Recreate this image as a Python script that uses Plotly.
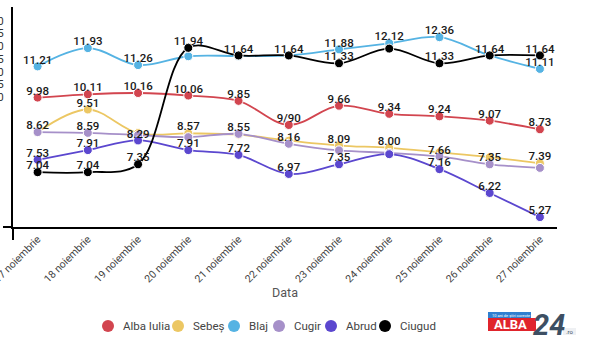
import plotly.graph_objects as go

dates = ["17 noiembrie", "18 noiembrie", "19 noiembrie", "20 noiembrie", "21 noiembrie",
         "22 noiembrie", "23 noiembrie", "24 noiembrie", "25 noiembrie", "26 noiembrie",
         "27 noiembrie"]

alba_iulia = [9.98, 10.11, 10.16, 10.06, 9.85, 8.90, 9.66, 9.34, 9.24, 9.07, 8.73]
sebes = [8.62, 9.51, 8.58, 8.57, 8.52, 8.28, 8.09, 8.00, 7.82, 7.63, 7.39]
blaj = [11.21, 11.93, 11.26, 11.61, 11.62, 11.64, 11.88, 12.12, 12.36, 11.64, 11.11]
cugir = [8.62, 8.59, 8.50, 8.42, 8.55, 8.16, 7.90, 7.80, 7.66, 7.35, 7.21]
abrud = [7.53, 7.91, 8.29, 7.91, 7.72, 6.97, 7.35, 7.75, 7.16, 6.22, 5.27]
ciugud = [7.04, 7.04, 7.35, 11.94, 11.64, 11.64, 11.33, 11.91, 11.33, 11.64, 11.64]

lbl_alba_iulia = ["9.98", "10.11", "10.16", "10.06", "9.85", "9/90", "9.66", "9.34", "9.24", "9.07", "8.73"]
lbl_sebes = ["", "9.51", "", "8.57", "", "", "8.09", "8.00", "", "", "7.39"]
lbl_blaj = ["11.21", "11.93", "11.26", "", "", "", "11.88", "12.12", "12.36", "", "11.11"]
lbl_cugir = ["8.62", "8.59", "", "", "8.55", "8.16", "", "", "7.66", "7.35", ""]
lbl_abrud = ["7.53", "7.91", "8.29", "7.91", "7.72", "6.97", "7.35", "", "7.16", "6.22", "5.27"]
lbl_ciugud = ["7.04", "7.04", "7.35", "11.94", "11.64", "11.64", "11.33", "", "11.33", "11.64", "11.64"]

names = ["Alba Iulia", "Sebeș", "Blaj", "Cugir", "Abrud", "Ciugud"]
colors = ["#d2454f", "#ecc763", "#55b3e3", "#a690c9", "#5b47cf", "#000000"]
series = [alba_iulia, sebes, blaj, cugir, abrud, ciugud]
labels = [lbl_alba_iulia, lbl_sebes, lbl_blaj, lbl_cugir, lbl_abrud, lbl_ciugud]

y_ticks = [5 + 0.5 * i for i in range(17)]
y_ticktext = [f"{v:.1f}" if v >= 10 else f"{v:.1f}\u2007" for v in y_ticks]

# pixel layout of the plot area
L, R, T, B = 13, 557, 7, 227


def px(x):
    return (x - L) / float(R - L)


def py(y):
    return (B - y) / float(B - T)


fig = go.Figure()
for name, col, vals in zip(names, colors, series):
    fig.add_trace(go.Scatter(
        x=dates, y=vals, mode="lines+markers", name=name,
        line=dict(color=col, width=1.8, shape="spline", smoothing=1.0),
        marker=dict(color=col, size=9, line=dict(color="white", width=1)),
        showlegend=False,
    ))
for name, vals, lbl in zip(names, series, labels):
    fig.add_trace(go.Scatter(
        x=dates, y=vals, mode="text", name=name + " labels",
        text=lbl, textposition="top center",
        textfont=dict(family="Roboto", size=11.5, color="#1a1a1a", weight=500),
        showlegend=False, cliponaxis=False, hoverinfo="skip",
    ))

fig.update_layout(
    width=590, height=354,
    margin=dict(l=L, r=590 - R, t=T, b=354 - B),
    paper_bgcolor="white", plot_bgcolor="white",
    font=dict(family="Roboto", color="#333"),
    showlegend=False,
)
fig.update_xaxes(
    type="category", range=[-0.49, 10.34],
    showgrid=False, zeroline=False,
    showline=True, linecolor="black", linewidth=2,
    tickangle=-45, ticks="", tickfont=dict(family="Roboto", size=10.5, color="#444"),
    title=dict(text="Data", font=dict(family="Roboto", size=12.5, color="#555"), standoff=1),
    automargin=False,
)
fig.update_yaxes(
    range=[4.88, 13.55], tickvals=y_ticks, ticktext=y_ticktext,
    showgrid=False, zeroline=False,
    showline=True, linecolor="black", linewidth=2,
    ticks="", ticklabelstandoff=5,
    tickfont=dict(family="Roboto", size=11, color="#333"),
    automargin=False,
)

# axis line extensions (crosshair look)
fig.add_shape(type="line", xref="paper", yref="paper", x0=px(3), x1=0, y0=0, y1=0,
              line=dict(color="black", width=2))
fig.add_shape(type="line", xref="paper", yref="paper", x0=0, x1=0, y0=0, y1=py(240),
              line=dict(color="black", width=2))

# manual legend (circle + name)
leg_x = [108, 178, 234, 279, 331, 385]
leg_y = 326
for name, col, cx in zip(names, colors, leg_x):
    fig.add_shape(type="circle", xref="paper", yref="paper",
                  x0=px(cx - 6), x1=px(cx + 6), y0=py(leg_y + 6), y1=py(leg_y - 6),
                  fillcolor=col, line=dict(width=0))
    fig.add_annotation(xref="paper", yref="paper", x=px(cx + 13), y=py(leg_y), text=name,
                       showarrow=False, xanchor="left", yanchor="middle",
                       font=dict(family="Roboto", size=11.5, color="#444"))

# ALBA24 logo
fig.add_shape(type="rect", xref="paper", yref="paper", x0=px(488), x1=px(531), y0=py(318), y1=py(312),
              fillcolor="#2f7fd0", line=dict(width=0))
fig.add_annotation(xref="paper", yref="paper", x=px(490), y=py(315), text="10 ani de știri corecte",
                   showarrow=False, xanchor="left", yanchor="middle",
                   font=dict(family="Roboto", size=4, color="white"))
fig.add_shape(type="rect", xref="paper", yref="paper", x0=px(488), x1=px(536), y0=py(331), y1=py(318),
              fillcolor="#e0242c", line=dict(width=0))
fig.add_annotation(xref="paper", yref="paper", x=px(510), y=py(324.5), text="<b>ALBA</b>",
                   showarrow=False, xanchor="center", yanchor="middle",
                   font=dict(family="Roboto", size=13, color="white"))
fig.add_annotation(xref="paper", yref="paper", x=px(549), y=py(325), text="<b><i>24</i></b>",
                   showarrow=False, xanchor="center", yanchor="middle",
                   font=dict(family="Roboto", size=29, color="#3d4f63"))
fig.add_shape(type="rect", xref="paper", yref="paper", x0=px(563), x1=px(576), y0=py(335), y1=py(328),
              fillcolor="#eef0f3", line=dict(width=0))
fig.add_annotation(xref="paper", yref="paper", x=px(569.5), y=py(331.5), text=".ro",
                   showarrow=False, xanchor="center", yanchor="middle",
                   font=dict(family="Roboto", size=6, color="#3d4f63"))

fig.write_html("out.html")
